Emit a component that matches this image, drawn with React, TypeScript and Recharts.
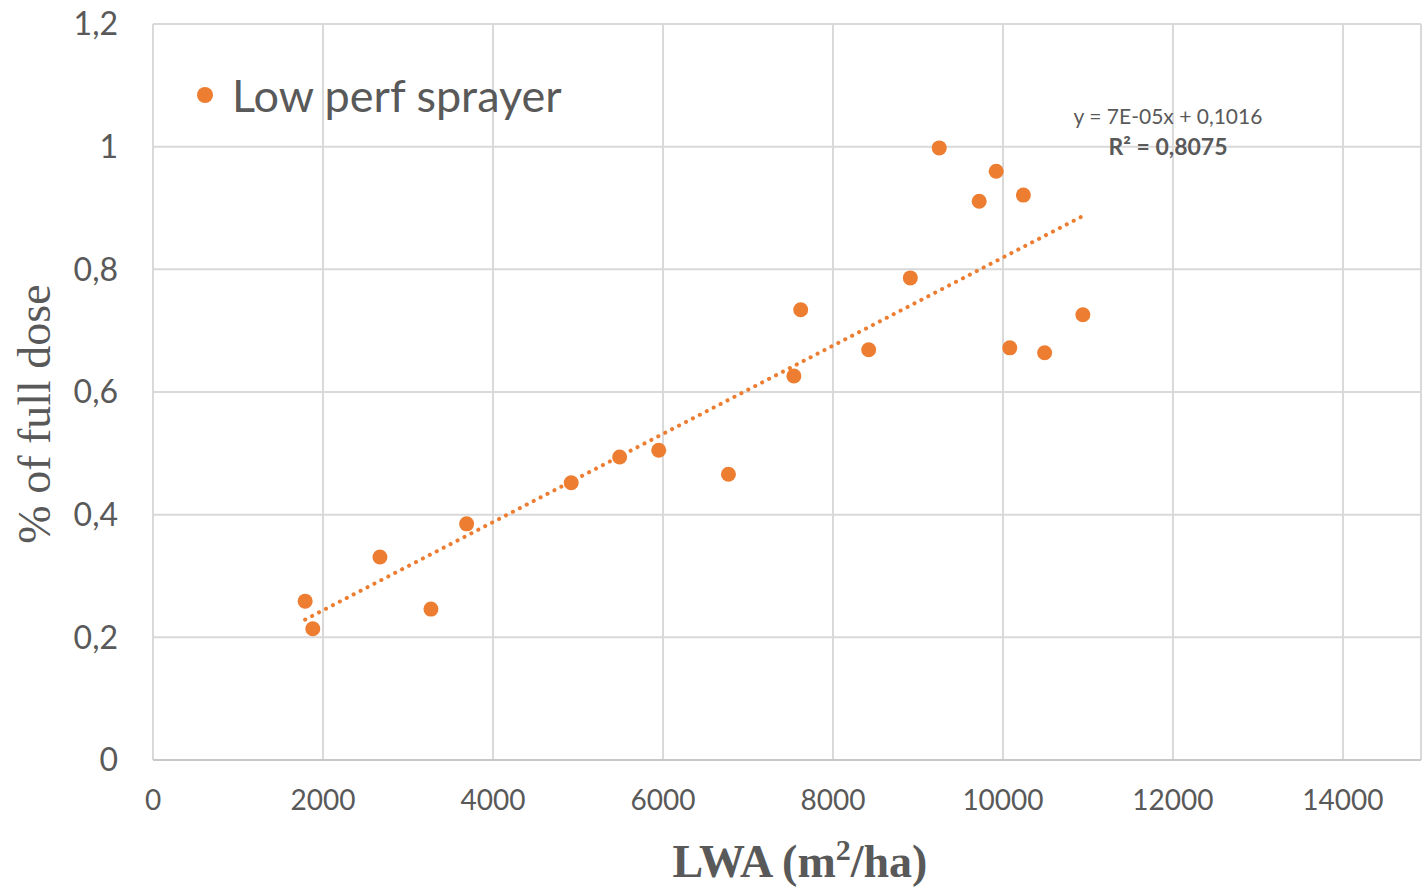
import {
  CartesianGrid,
  Label,
  Scatter,
  ScatterChart,
  XAxis,
  YAxis,
} from "recharts";

// LWA (m²/ha) vs fraction of full dose
const lwa = [
  1790, 1880, 2670, 3270, 3690, 4920, 5490, 5950, 6770, 7540,
  7620, 8420, 8910, 9250, 9720, 9920, 10080, 10240, 10490, 10940,
];
const dose = [
  0.259, 0.214, 0.331, 0.246, 0.385, 0.452, 0.494, 0.505, 0.466, 0.626,
  0.734, 0.669, 0.786, 0.998, 0.911, 0.960, 0.672, 0.921, 0.664, 0.726,
];

// linear trend ends as drawn on the figure
const trendX = [1790, 10940];
const trendY = [0.229, 0.887];

const xTicks = [0, 2000, 4000, 6000, 8000, 10000, 12000, 14000];
const yTicks = [0, 0.2, 0.4, 0.6, 0.8, 1, 1.2];

const ORANGE = "#ED7D31";
const GREY_TXT = "#595959";
const SANS = "Lato, 'Open Sans', sans-serif";
const SERIF = "'Liberation Serif', 'DejaVu Serif', serif";

const points = lwa.map((x, i) => ({ x, y: dose[i] }));
const trend = trendX.map((x, i) => ({ x, y: trendY[i] }));

const fmt = (v: number) => String(v).replace(".", ",");

export default function App() {
  return (
    <div
      style={{
        position: "absolute",
        left: 0,
        top: 0,
        width: 1422,
        height: 888,
        background: "#fff",
      }}
    >
      <ScatterChart
        width={1422}
        height={888}
        margin={{ top: 24, right: 1, left: 0, bottom: 0 }}
      >
        <CartesianGrid stroke="#d9d9d9" strokeWidth={2} />
        <XAxis
          type="number"
          dataKey="x"
          domain={[0, 14918]}
          ticks={xTicks}
          height={128}
          tickSize={0}
          tickMargin={30}
          axisLine={{ stroke: "#c8c8c8", strokeWidth: 2 }}
          tick={{ fill: GREY_TXT, fontSize: 28, fontFamily: SANS }}
          allowDataOverflow
        >
          <Label
            content={(p: any) => {
              const vb = p.viewBox;
              return (
                <text
                  x={vb.x + vb.width / 2 + 13}
                  y={vb.y + 117}
                  textAnchor="middle"
                  fill={GREY_TXT}
                  fontSize={46}
                  fontWeight="bold"
                  fontFamily={SERIF}
                >
                  LWA (m
                  <tspan dy={-17} fontSize={30}>
                    2
                  </tspan>
                  <tspan dy={17}>/ha)</tspan>
                </text>
              );
            }}
          />
        </XAxis>
        <YAxis
          type="number"
          dataKey="y"
          domain={[0, 1.2]}
          ticks={yTicks}
          width={153}
          tickSize={0}
          tickMargin={35}
          axisLine={false}
          tickFormatter={fmt}
          tick={{ fill: GREY_TXT, fontSize: 32, fontFamily: SANS }}
        >
          <Label
            content={() => (
              <text
                x={50}
                y={414}
                transform="rotate(-90, 50, 414)"
                textAnchor="middle"
                fill={GREY_TXT}
                fontSize={46}
                fontFamily={SERIF}
              >
                % of full dose
              </text>
            )}
          />
        </YAxis>
        <Scatter
          data={trend}
          isAnimationActive={false}
          legendType="none"
          line={{
            stroke: ORANGE,
            strokeWidth: 4,
            strokeDasharray: "0.1 7.7",
            strokeLinecap: "round",
          }}
          shape={() => <g />}
        />
        <Scatter
          data={points}
          fill={ORANGE}
          isAnimationActive={false}
          shape={(p: any) => <circle cx={p.cx} cy={p.cy} r={7.5} fill={ORANGE} />}
        />
      </ScatterChart>

      {/* legend */}
      <div
        style={{
          position: "absolute",
          left: 197,
          top: 68,
          display: "flex",
          alignItems: "center",
          fontFamily: SANS,
          fontSize: 45,
          color: GREY_TXT,
          whiteSpace: "nowrap",
        }}
      >
        <span
          style={{
            width: 16,
            height: 16,
            borderRadius: 8,
            background: ORANGE,
            marginRight: 19,
            display: "inline-block",
          }}
        />
        Low perf sprayer
      </div>

      {/* trendline equation */}
      <div
        style={{
          position: "absolute",
          left: 1060,
          top: 100,
          width: 216,
          textAlign: "center",
          fontFamily: SANS,
          fontSize: 21,
          lineHeight: "31px",
          color: GREY_TXT,
          whiteSpace: "nowrap",
        }}
      >
        <div>y = 7E-05x + 0,1016</div>
        <div style={{ fontWeight: "bold", fontSize: 23 }}>R² = 0,8075</div>
      </div>
    </div>
  );
}
